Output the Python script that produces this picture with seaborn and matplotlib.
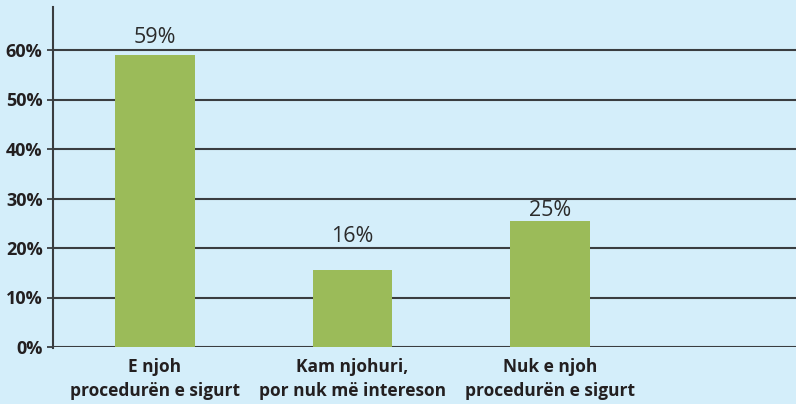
import matplotlib
matplotlib.use("Agg")
import matplotlib.pyplot as plt
import seaborn as sns
import pandas as pd

categories = ["E njoh\nprocedurën e sigurt",
              "Kam njohuri,\npor nuk më intereson",
              "Nuk e njoh\nprocedurën e sigurt"]
values = [59.0, 15.6, 25.5]
value_labels = ["59%", "16%", "25%"]
label_offsets = [8.6, 20, 3.6]  # points above bar top (baseline)
yticks = [0, 10, 20, 30, 40, 50, 60]
ytick_labels = ["0%", "10%", "20%", "30%", "40%", "50%", "60%"]

bg = "#d4eefa"
bar_color = "#9bbb59"
grid_color = "#3a3d40"
text_color = "#231f20"

sns.set_theme(style="white")
plt.rcParams["font.family"] = ["Open Sans", "DejaVu Sans"]

df = pd.DataFrame({"cat": categories, "val": values})

fig = plt.figure(figsize=(7.96, 4.04), dpi=100)
fig.patch.set_facecolor(bg)
ax = fig.add_axes([53 / 796, (404 - 347) / 404, 1 - 53 / 796, (347 - 7) / 404])
ax.set_facecolor(bg)

sns.barplot(data=df, x="cat", y="val", color=bar_color, saturation=1,
            width=0.405, ax=ax, zorder=3, edgecolor="none")

left = -102 / 197.5
ax.set_xlim(left, left + (796 - 53) / 197.5)
ax.set_ylim(0, (347 - 7) / 49.5 * 10)

ax.set_yticks(yticks)
ax.set_yticklabels(ytick_labels, fontsize=13, fontweight="bold", color=text_color)
ax.tick_params(axis="y", length=4.5, width=1.3, color=grid_color, pad=3, left=True)
ax.tick_params(axis="x", length=0, pad=8)
for lab in ax.get_xticklabels():
    lab.set_fontsize(12.5)
    lab.set_fontweight("bold")
    lab.set_color(text_color)
    lab.set_linespacing(1.4)

ax.set_xlabel("")
ax.set_ylabel("")

ax.yaxis.grid(True, color=grid_color, linewidth=1.5, zorder=1)
ax.set_axisbelow(True)
for s in ["top", "right", "bottom"]:
    ax.spines[s].set_visible(False)
ax.spines["left"].set_color(grid_color)
ax.spines["left"].set_linewidth(1.5)
ax.spines["left"].set_bounds(-0.12, ax.get_ylim()[1])

for i, (v, lab, off) in enumerate(zip(values, value_labels, label_offsets)):
    ax.annotate(lab, (i, v), xytext=(0, off), textcoords="offset points",
                ha="center", va="baseline", fontsize=15.5, color="#2b2b2b")

fig.savefig("out.png", dpi=100, facecolor=bg)
